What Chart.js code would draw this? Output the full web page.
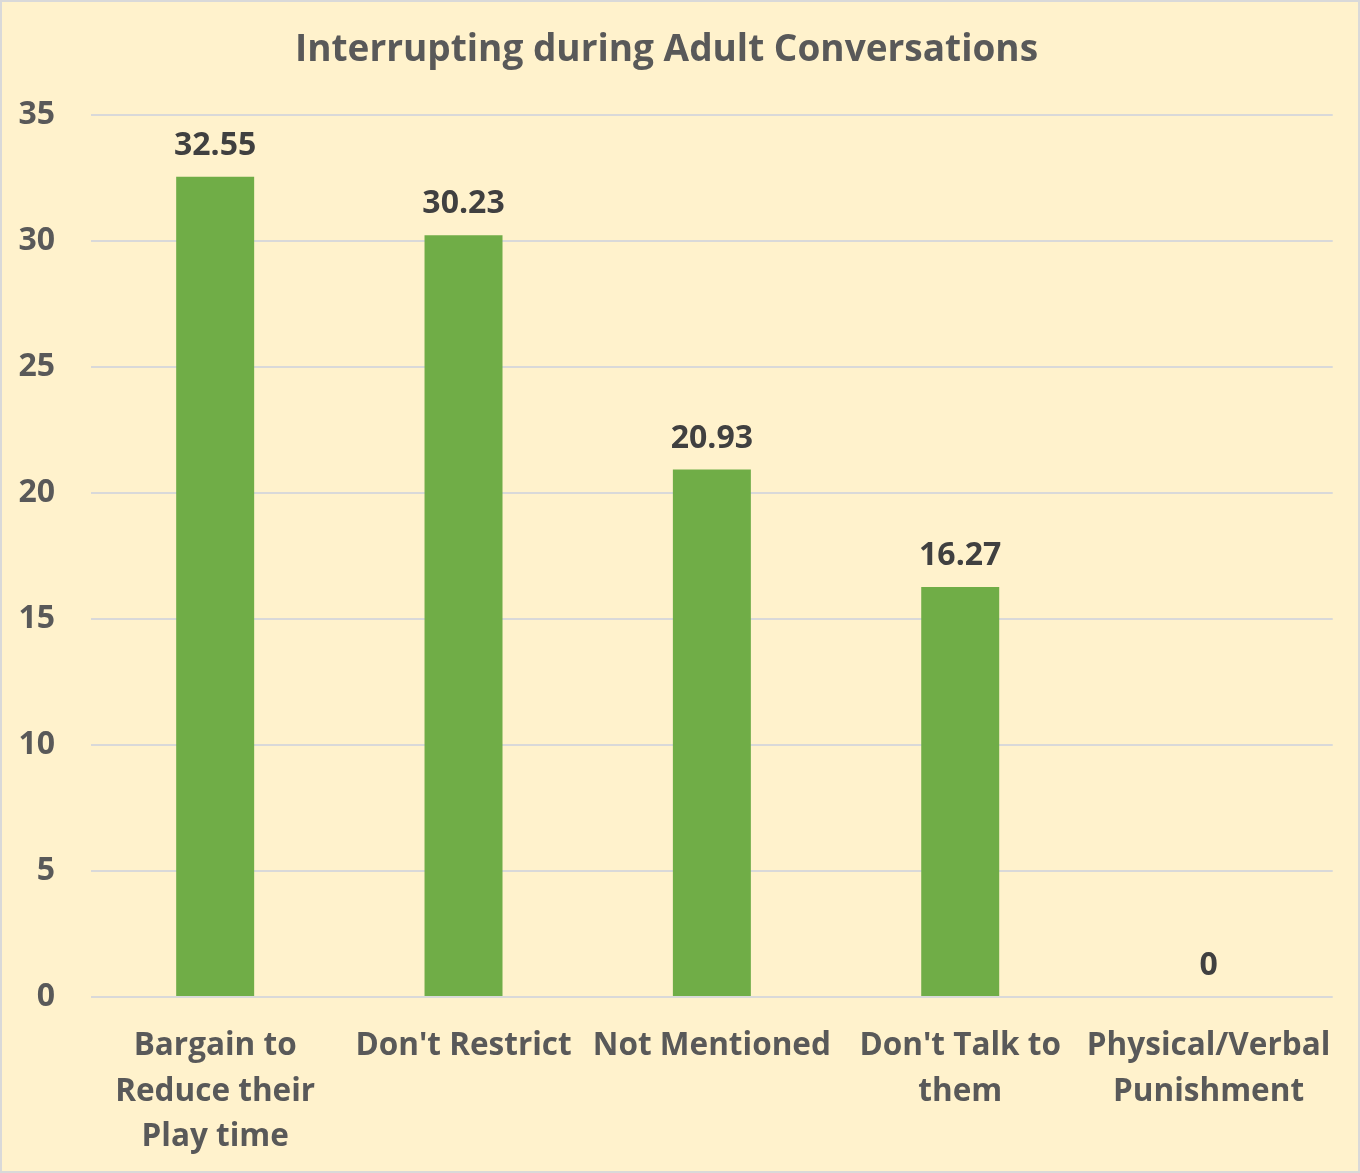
<!DOCTYPE html>
<html>
<head>
<meta charset="utf-8">
<script src="https://cdn.jsdelivr.net/npm/chart.js@4/dist/chart.umd.min.js"></script>
<style>
html,body{margin:0;padding:0;background:#FFF2CC;}
#wrap{width:1360px;height:1173px;position:relative;}
</style>
</head>
<body>
<div id="wrap"><canvas id="c" width="1360" height="1173"></canvas></div>
<script>
const titleText = "Interrupting during Adult Conversations";
const categories = [["Bargain to","Reduce their","Play time"], "Don't Restrict", "Not Mentioned", ["Don't Talk to","them"], ["Physical/Verbal","Punishment"]];
const values = [32.55, 30.23, 20.93, 16.27, 0];
const yMin = 0, yMax = 35, yStep = 5;

const FONT = "'Open Sans', Lato, sans-serif";
const bgPlugin = {
  id: 'bg',
  beforeDraw(chart) {
    const ctx = chart.ctx;
    ctx.save();
    ctx.fillStyle = '#FFF2CC';
    ctx.fillRect(0, 0, chart.width, chart.height);
    ctx.strokeStyle = '#D9D9D9';
    ctx.lineWidth = 2;
    ctx.strokeRect(1, 1, chart.width - 2, chart.height - 2);
    ctx.restore();
  }
};
const labelPlugin = {
  id: 'vlabels',
  afterDatasetsDraw(chart) {
    const ctx = chart.ctx;
    const meta = chart.getDatasetMeta(0);
    ctx.save();
    ctx.font = "bold 32px " + FONT;
    ctx.fillStyle = '#404040';
    ctx.textAlign = 'center';
    ctx.textBaseline = 'middle';
    meta.data.forEach((bar, i) => {
      ctx.fillText(String(values[i]), bar.x, bar.y - 31);
    });
    ctx.restore();
  }
};

new Chart(document.getElementById('c'), {
  type: 'bar',
  data: {
    labels: categories,
    datasets: [{
      data: values,
      backgroundColor: '#70AD47',
      borderWidth: 0,
      categoryPercentage: 1,
      barPercentage: 0.314
    }]
  },
  options: {
    responsive: false,
    animation: false,
    devicePixelRatio: 1,
    layout: { padding: { left: 0, right: 27, top: 0, bottom: 0 } },
    plugins: {
      legend: { display: false },
      tooltip: { enabled: false },
      title: {
        display: true,
        text: titleText,
        color: '#595959',
        font: { family: FONT, size: 37, weight: 'bold', lineHeight: 1.2 },
        padding: { top: 28, bottom: 42.6 }
      }
    },
    scales: {
      x: {
        grid: { display: false, drawTicks: false },
        border: { display: false },
        ticks: {
          color: '#595959',
          font: { family: FONT, size: 31.5, weight: 'bold', lineHeight: 1.43 },
          padding: 27,
          maxRotation: 0,
          autoSkip: false
        },
        afterFit(scale) { scale.height = 1173 - 997; }
      },
      y: {
        min: yMin, max: yMax,
        grid: { color: '#D9D9D9', lineWidth: 2, drawTicks: false },
        border: { display: false },
        ticks: {
          stepSize: yStep,
          color: '#595959',
          font: { family: FONT, size: 32, weight: 'bold' },
          padding: 36
        },
        afterFit(scale) { scale.width = 91; }
      }
    }
  },
  plugins: [bgPlugin, labelPlugin]
});
</script>
</body>
</html>
